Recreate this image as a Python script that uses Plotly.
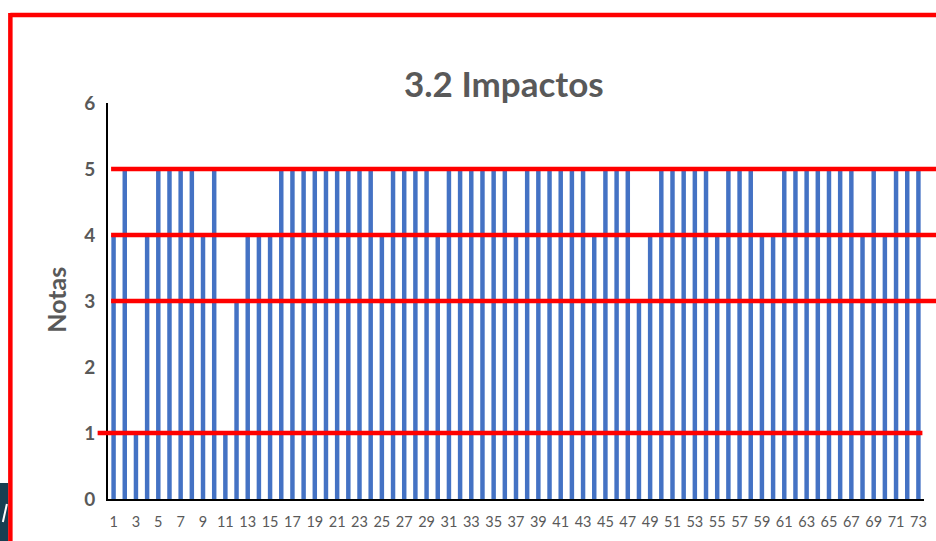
import plotly.graph_objects as go

# Survey answers: one bar per respondent
respondents = list(range(1, 74))
scores = [
    4, 5, 1, 4, 5, 5, 5, 5, 4, 5,
    1, 3, 4, 4, 4, 5, 5, 5, 5, 5,
    5, 5, 5, 5, 4, 5, 5, 5, 5, 4,
    5, 5, 5, 5, 5, 5, 4, 5, 5, 5,
    5, 5, 5, 4, 5, 5, 5, 3, 4, 5,
    5, 5, 5, 5, 4, 5, 5, 5, 4, 4,
    5, 5, 5, 5, 5, 5, 5, 4, 5, 4,
    5, 5, 5,
]
tick_values = list(range(1, 74, 2))
y_ticks = [0, 1, 2, 3, 4, 5, 6]
marker_levels = [1, 3, 4, 5]

W, H = 936, 541
L, R, T, B = 108.4, 9.4, 103, 42
PW, PH = W - L - R, H - T - B


def px(x):
    return (x - L) / PW


def py(y):
    return (H - y - B) / PH


GREY = "#595959"
RED = "#ff0000"
FONT = "Lato"

fig = go.Figure()
fig.add_trace(go.Bar(
    x=respondents, y=scores,
    marker=dict(color="#4472C4", line=dict(width=0)),
    hoverinfo="x+y",
))

shapes = []
# horizontal reference lines
for lv in marker_levels:
    if lv == 1:
        x0, x1 = px(98), px(925)
    else:
        x0, x1 = px(111.5), px(940)
    shapes.append(dict(type="line", xref="paper", yref="y", x0=x0, x1=x1,
                       y0=lv, y1=lv, line=dict(color=RED, width=4.5), layer="above"))

# red frame (top and left edges)
shapes.append(dict(type="line", xref="paper", yref="paper",
                   x0=px(10.5), x1=px(940), y0=py(15), y1=py(15),
                   line=dict(color=RED, width=4.5)))
shapes.append(dict(type="line", xref="paper", yref="paper",
                   x0=px(10.5), x1=px(10.5), y0=py(13), y1=py(545),
                   line=dict(color=RED, width=4.5)))
# dark corner badge
shapes.append(dict(type="rect", xref="paper", yref="paper",
                   x0=px(-2), x1=px(8.2), y0=py(545), y1=py(483),
                   fillcolor="#173f52", line=dict(width=0)))
shapes.append(dict(type="line", xref="paper", yref="paper",
                   x0=px(3), x1=px(7), y0=py(522), y1=py(504),
                   line=dict(color="white", width=2)))

annotations = [
    dict(text="<b>3.2 Impactos</b>", xref="paper", yref="paper",
         x=px(505), y=py(83), showarrow=False,
         font=dict(family=FONT, size=35, color=GREY),
         xanchor="center", yanchor="middle"),
    dict(text="<b>Notas</b>", xref="paper", yref="paper",
         x=px(56), y=py(300), showarrow=False, textangle=-90,
         font=dict(family=FONT, size=25, color=GREY),
         xanchor="center", yanchor="middle"),
]

fig.update_layout(
    width=W, height=H,
    margin=dict(l=L, r=R, t=T, b=B, pad=0),
    paper_bgcolor="white", plot_bgcolor="white",
    bargap=0.6,
    showlegend=False,
    shapes=shapes,
    annotations=annotations,
    font=dict(family=FONT, color=GREY),
)
fig.update_xaxes(
    range=[0.5, 73.5], tickmode="array", tickvals=tick_values,
    ticktext=[str(v) for v in tick_values],
    tickfont=dict(family=FONT, size=14.5, color=GREY), ticks="", showgrid=False,
    showline=True, linecolor="black", linewidth=2, zeroline=False,
    ticklabelstandoff=9, tickangle=0,
)
fig.update_yaxes(
    range=[0, 6], tickmode="array", tickvals=y_ticks,
    ticktext=[f"<b>{v}</b>" for v in y_ticks],
    tickfont=dict(family=FONT, size=19, color=GREY), ticks="", showgrid=False,
    showline=True, linecolor="black", linewidth=2, zeroline=False,
    ticklabelstandoff=7,
)

fig.write_html("out.html")
